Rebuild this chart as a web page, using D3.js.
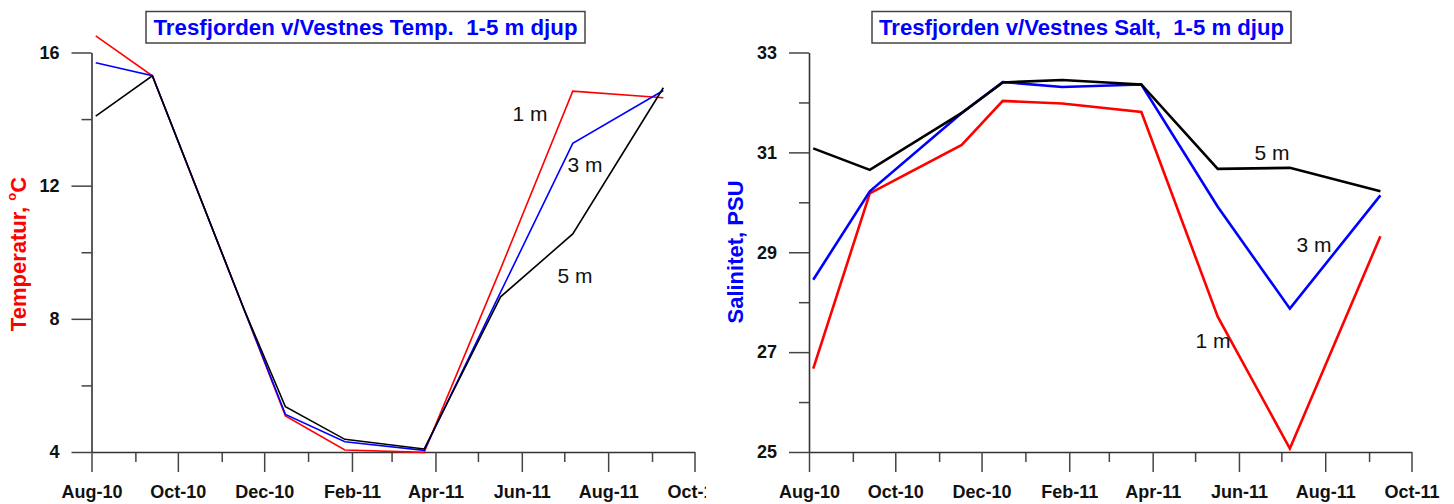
<!DOCTYPE html>
<html><head><meta charset="utf-8">
<script src="https://cdn.jsdelivr.net/npm/d3@7"></script>
<style>body{margin:0;background:#fff;} svg{display:block;}</style>
</head><body>
<svg id="c" width="1454" height="504"></svg>
<script>
// ---------- DATA ----------
const sampleDates = ["2010-08-04","2010-09-13","2010-11-17","2010-12-16","2011-01-27","2011-03-24","2011-05-17","2011-07-07","2011-09-09"];
const temp1m = [16.5, 15.3, 8.26, 5.08, 4.06, 3.99, 9.5, 14.84, 14.64];
const temp3m = [15.69, 15.3, 8.26, 5.13, 4.31, 4.05, 8.8, 13.27, 14.86];
const temp5m = [14.09, 15.3, 8.26, 5.36, 4.38, 4.09, 8.66, 10.55, 14.94];
const salt1m = [26.67, 30.18, 31.15, 32.03, 31.98, 31.81, 27.71, 25.07, 29.32];
const salt3m = [28.45, 30.22, 31.79, 32.41, 32.31, 32.36, 29.91, 27.87, 30.14];
const salt5m = [31.08, 30.65, 31.79, 32.40, 32.45, 32.36, 30.67, 30.69, 30.22];
const seriesNames = ["1 m", "3 m", "5 m"];
const seriesColors = ["#ff0000", "#0000ff", "#000000"];
const xDomain = ["2010-08-01", "2011-10-01"];
const tempMajorTicks = [4, 8, 12, 16];
const tempMinorTicks = [6, 10, 14];
const saltMajorTicks = [25, 27, 29, 31, 33];
const saltMinorTicks = [26, 28, 30, 32];
const titles = ["Tresfjorden v/Vestnes Temp.  1-5 m djup", "Tresfjorden v/Vestnes Salt,  1-5 m djup"];

// ---------- DRAW ----------
const parse = d3.utcParse("%Y-%m-%d");
const dates = sampleDates.map(parse);
const svg = d3.select("#c");
svg.append("defs").append("clipPath").attr("id","leftclip")
  .append("rect").attr("x",0).attr("y",0).attr("width",706).attr("height",504);
const FONT = "'Liberation Sans', Arial, sans-serif";

function panel(g, cfg) {
  const x = d3.scaleUtc().domain(xDomain.map(parse)).range([cfg.x0, cfg.x1]);
  const y = d3.scaleLinear().domain(cfg.yDomain).range([452, 52.5]);
  const months = d3.utcMonth.range(parse(xDomain[0]), d3.utcMonth.offset(parse(xDomain[1]), 1));
  const major = months.filter((d,i) => i % 2 === 0);
  const minor = months.filter((d,i) => i % 2 === 1);
  const fmt = d3.utcFormat("%b-%y");

  g.append("g").attr("transform","translate(0,452)")
    .call(d3.axisBottom(x).tickValues(minor).tickSize(10).tickSizeOuter(0).tickFormat(""))
    .call(a => a.select(".domain").remove());
  g.append("g").attr("transform","translate(0,452)")
    .call(d3.axisBottom(x).tickValues(major).tickSize(20).tickSizeOuter(0).tickPadding(13).tickFormat(fmt));
  g.append("g").attr("transform",`translate(${cfg.x0},0)`)
    .call(d3.axisLeft(y).tickValues(cfg.minor).tickSize(10).tickSizeOuter(0).tickFormat(""))
    .call(a => a.select(".domain").remove());
  g.append("g").attr("transform",`translate(${cfg.x0},0)`)
    .call(d3.axisLeft(y).tickValues(cfg.major).tickSize(20).tickSizeOuter(0).tickPadding(12).tickFormat(d3.format("d")));

  g.selectAll(".tick line").attr("stroke","#444").attr("stroke-width",1.5);
  g.selectAll(".domain").attr("stroke","#333").attr("stroke-width",1.6);
  g.selectAll(".tick text").attr("fill","#111").style("font-family",FONT)
    .style("font-weight","bold").style("font-size","18px");

  const line = d3.line().x((d,i) => x(dates[i])).y(d => y(d));
  cfg.series.forEach((s, k) => {
    g.append("path").datum(s).attr("d", line).attr("fill","none")
      .attr("stroke", seriesColors[k]).attr("stroke-width", cfg.lw).attr("stroke-linejoin","miter");
  });
  cfg.labels.forEach((p, k) => {
    g.append("text").attr("x", p[0]).attr("y", p[1]).attr("text-anchor","middle")
      .attr("dominant-baseline","central")
      .style("font-family",FONT).style("font-size","21px")
      .attr("fill","#111").text(seriesNames[k]);
  });

  const tb = g.append("g");
  tb.append("rect").attr("x", cfg.box[0]).attr("y", 11.5).attr("width", cfg.box[1]-cfg.box[0]).attr("height", 31.5)
    .attr("fill","#fff").attr("stroke","#444").attr("stroke-width",1.5);
  tb.append("text").attr("x", (cfg.box[0]+cfg.box[1])/2).attr("y", 35).attr("text-anchor","middle")
    .style("white-space","pre").style("font-family",FONT)
    .style("font-weight","bold").style("font-size","22px").attr("fill","#0000ff")
    .attr("textLength", cfg.titleLen).attr("lengthAdjust","spacingAndGlyphs").text(cfg.title);

  const yt = g.append("text").attr("transform",`translate(${cfg.ytx},${cfg.yty}) rotate(-90)`)
    .attr("text-anchor","middle").attr("dominant-baseline","central")
    .style("font-family",FONT).style("font-weight","bold").style("font-size","22px")
    .attr("fill", cfg.ytColor);
  cfg.ytParts(yt);
}

const left = svg.append("g").attr("clip-path","url(#leftclip)");
panel(left, {
  x0: 91.5, x1: 694.5, yDomain: [4, 16], major: tempMajorTicks, minor: tempMinorTicks,
  series: [temp1m, temp3m, temp5m], lw: 1.6,
  labels: [[530, 113], [585, 164], [575, 275]],
  box: [146, 585], title: titles[0], titleLen: 424, ytx: 18, yty: 254, ytColor: "#ff0000",
  ytParts: t => { t.append("tspan").text("Temperatur, ");
    t.append("tspan").attr("font-size","13px").attr("dy","-7").text("o");
    t.append("tspan").attr("dy","7").text("C"); }
});
const right = svg.append("g");
panel(right, {
  x0: 809, x1: 1411.5, yDomain: [25, 33], major: saltMajorTicks, minor: saltMinorTicks,
  series: [salt1m, salt3m, salt5m], lw: 2.6,
  labels: [[1213, 340], [1314, 244], [1272, 152]],
  box: [872, 1291], title: titles[1], titleLen: 405, ytx: 735, yty: 252, ytColor: "#0000ff",
  ytParts: t => { t.text("Salinitet, PSU"); }
});
</script>
</body></html>
